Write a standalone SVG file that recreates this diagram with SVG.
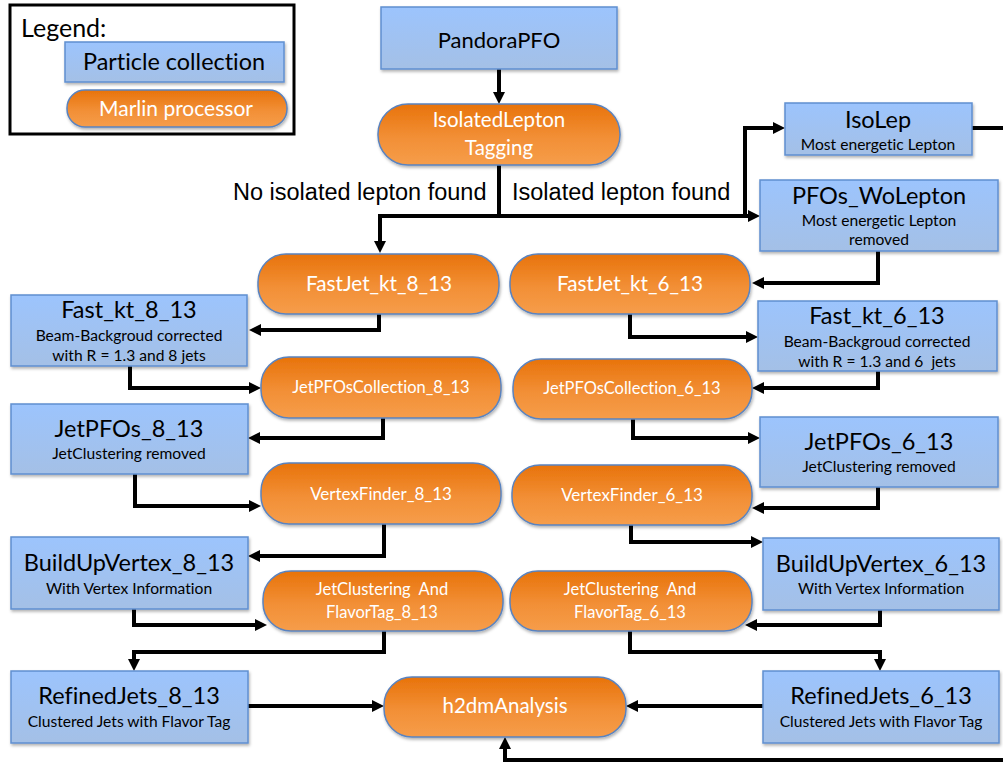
<svg xmlns="http://www.w3.org/2000/svg" width="1003" height="762" viewBox="0 0 1003 762">
<defs>
<linearGradient id="gb" x1="0" y1="0" x2="0" y2="1">
<stop offset="0" stop-color="#9cc4fd"/>
<stop offset="1" stop-color="#a4c0e6"/>
</linearGradient>
<linearGradient id="go" x1="0" y1="0" x2="0" y2="1">
<stop offset="0" stop-color="#e8730a"/>
<stop offset="0.55" stop-color="#f28f36"/>
<stop offset="1" stop-color="#f69d4a"/>
</linearGradient>
<filter id="sh" x="-10%" y="-10%" width="130%" height="140%">
<feDropShadow dx="1" dy="2" stdDeviation="1.5" flood-color="#000" flood-opacity="0.3"/>
</filter>
<marker id="ah" viewBox="0 0 12 12" markerWidth="12" markerHeight="12" refX="7" refY="6" orient="auto" markerUnits="userSpaceOnUse">
<path d="M0,0 L12,6 L0,12 z" fill="#000"/>
</marker>
</defs>
<style>
.col{fill:url(#gb);stroke:#5f8fd0;stroke-width:1.5;filter:url(#sh)}
.proc{fill:url(#go);stroke:#5a83bf;stroke-width:1.5;filter:url(#sh)}
text{font-variant-ligatures:none}
.t{font-family:Lato,"Open Sans","Liberation Sans",sans-serif;text-anchor:middle;fill:#000}
.tw{font-family:Lato,"Open Sans","Liberation Sans",sans-serif;text-anchor:middle;fill:#fff}
.big{font-size:23.5px}
.sub{font-size:15.6px}
.lbl{font-family:"Liberation Sans",Arial,sans-serif;font-size:23.5px;fill:#000}
.c{fill:none;stroke:#000;stroke-width:4;marker-end:url(#ah)}
</style>
<rect width="1003" height="762" fill="#fff"/>

<g id="legend">
<rect x="10" y="5" width="284" height="129" fill="#fff" stroke="#000" stroke-width="3"/>
<text x="21" y="37" font-family="Lato,'Open Sans','Liberation Sans',sans-serif" font-size="25">Legend:</text>
<rect class="col" x="65" y="42" width="219" height="40"/>
<text class="t" x="174" y="70" font-size="23.4">Particle collection</text>
<rect class="proc" x="67" y="90" width="220" height="37" rx="18"/>
<text class="tw" x="176" y="116" font-size="21">Marlin processor</text>
</g>

<g id="connectors">
<path class="c" d="M499,69 V99"/>
<path class="c" d="M499,165 V216 H380 V248"/>
<path class="c" d="M499,216 H755"/>
<path class="c" d="M745,216 V128 H780"/>
<path class="c" d="M972,128 H1008 V760 H505 V742"/>
<path class="c" d="M878,251 V283 H757"/>
<path class="c" d="M379,314 V330 H254"/>
<path class="c" d="M630,314 V337 H753"/>
<path class="c" d="M130,366 V388 H256"/>
<path class="c" d="M878,371 V388 H757"/>
<path class="c" d="M383,418 V438 H253"/>
<path class="c" d="M633,419 V438 H755"/>
<path class="c" d="M135,474 V506 H256"/>
<path class="c" d="M878,487 V508 H757"/>
<path class="c" d="M384,524 V556 H253"/>
<path class="c" d="M631,525 V542 H758"/>
<path class="c" d="M134,609 V625 H262"/>
<path class="c" d="M880,610 V625 H750"/>
<path class="c" d="M384,631 V652 H134 V666"/>
<path class="c" d="M630,631 V652 H880 V666"/>
<path class="c" d="M248,706 H379"/>
<path class="c" d="M763,706 H631"/>
</g>

<g id="labels">
<text class="lbl" x="233" y="200">No isolated lepton found</text>
<text class="lbl" x="512" y="200">Isolated lepton found</text>
</g>

<g id="PandoraPFO">
<rect class="col" x="381" y="7" width="236" height="62"/>
<text class="t" x="499" y="48" font-size="22">PandoraPFO</text>
</g>

<g id="IsolatedLeptonTagging">
<rect class="proc" x="378" y="104" width="242" height="61" rx="30"/>
<text class="tw" x="499" y="127" font-size="20.5">IsolatedLepton</text>
<text class="tw" x="499" y="155" font-size="20.5">Tagging</text>
</g>

<g id="IsoLep">
<rect class="col" x="785" y="103" width="187" height="52"/>
<text class="t big" x="878" y="128">IsoLep</text>
<text class="t sub" x="878" y="150">Most energetic Lepton</text>
</g>

<g id="PFOs_WoLepton">
<rect class="col" x="760" y="180" width="238" height="71"/>
<text class="t big" x="879" y="204">PFOs_WoLepton</text>
<text class="t sub" x="879" y="226">Most energetic Lepton</text>
<text class="t sub" x="879" y="245">removed</text>
</g>

<g id="FastJet_kt_8_13">
<rect class="proc" x="258" y="254" width="241" height="60" rx="28"/>
<text class="tw" x="379" y="291" font-size="20.7">FastJet_kt_8_13</text>
</g>

<g id="FastJet_kt_6_13">
<rect class="proc" x="510" y="254" width="240" height="60" rx="28"/>
<text class="tw" x="630" y="291" font-size="20.7">FastJet_kt_6_13</text>
</g>

<g id="Fast_kt_8_13">
<rect class="col" x="11" y="295" width="236" height="71"/>
<text class="t big" x="129" y="318">Fast_kt_8_13</text>
<text class="t sub" x="129" y="341">Beam-Backgroud corrected</text>
<text class="t sub" x="129" y="361">with R = 1.3 and 8 jets</text>
</g>

<g id="Fast_kt_6_13">
<rect class="col" x="758" y="301" width="239" height="70"/>
<text class="t big" x="877" y="324">Fast_kt_6_13</text>
<text class="t sub" x="877" y="347">Beam-Backgroud corrected</text>
<text class="t sub" x="877" y="367" xml:space="preserve">with R = 1.3 and 6  jets</text>
</g>

<g id="JetPFOsCollection_8_13">
<rect class="proc" x="261" y="357" width="240" height="61" rx="28"/>
<text class="tw" x="381" y="393" font-size="16.5">JetPFOsCollection_8_13</text>
</g>

<g id="JetPFOsCollection_6_13">
<rect class="proc" x="513" y="359" width="239" height="60" rx="28"/>
<text class="tw" x="632" y="394" font-size="16.5">JetPFOsCollection_6_13</text>
</g>

<g id="JetPFOs_8_13">
<rect class="col" x="11" y="404" width="237" height="70"/>
<text class="t big" x="129" y="437">JetPFOs_8_13</text>
<text class="t sub" x="129" y="459">JetClustering removed</text>
</g>

<g id="JetPFOs_6_13">
<rect class="col" x="760" y="417" width="238" height="70"/>
<text class="t big" x="879" y="450">JetPFOs_6_13</text>
<text class="t sub" x="879" y="472">JetClustering removed</text>
</g>

<g id="VertexFinder_8_13">
<rect class="proc" x="261" y="463" width="240" height="61" rx="28"/>
<text class="tw" x="381" y="500" font-size="17">VertexFinder_8_13</text>
</g>

<g id="VertexFinder_6_13">
<rect class="proc" x="512" y="465" width="240" height="60" rx="28"/>
<text class="tw" x="632" y="501" font-size="17">VertexFinder_6_13</text>
</g>

<g id="BuildUpVertex_8_13">
<rect class="col" x="11" y="537" width="237" height="72"/>
<text class="t big" x="129" y="571">BuildUpVertex_8_13</text>
<text class="t sub" x="129" y="594">With Vertex Information</text>
</g>

<g id="BuildUpVertex_6_13">
<rect class="col" x="763" y="538" width="236" height="72"/>
<text class="t big" x="881" y="572">BuildUpVertex_6_13</text>
<text class="t sub" x="881" y="594">With Vertex Information</text>
</g>

<g id="JetClusteringFlavorTag_8_13">
<rect class="proc" x="263" y="571" width="240" height="60" rx="28"/>
<text class="tw" x="382" y="595" font-size="16.5" xml:space="preserve">JetClustering  And</text>
<text class="tw" x="382" y="618" font-size="16.5">FlavorTag_8_13</text>
</g>

<g id="JetClusteringFlavorTag_6_13">
<rect class="proc" x="510" y="571" width="242" height="60" rx="28"/>
<text class="tw" x="630" y="595" font-size="16.5" xml:space="preserve">JetClustering  And</text>
<text class="tw" x="630" y="618" font-size="16.5">FlavorTag_6_13</text>
</g>

<g id="RefinedJets_8_13">
<rect class="col" x="11" y="671" width="237" height="72"/>
<text class="t big" x="129" y="704">RefinedJets_8_13</text>
<text class="t sub" x="129" y="727">Clustered Jets with Flavor Tag</text>
</g>

<g id="RefinedJets_6_13">
<rect class="col" x="763" y="671" width="236" height="72"/>
<text class="t big" x="881" y="704">RefinedJets_6_13</text>
<text class="t sub" x="881" y="727">Clustered Jets with Flavor Tag</text>
</g>

<g id="h2dmAnalysis">
<rect class="proc" x="384" y="677" width="242" height="60" rx="28"/>
<text class="tw" x="505" y="713" font-size="20.5">h2dmAnalysis</text>
</g>
</svg>
